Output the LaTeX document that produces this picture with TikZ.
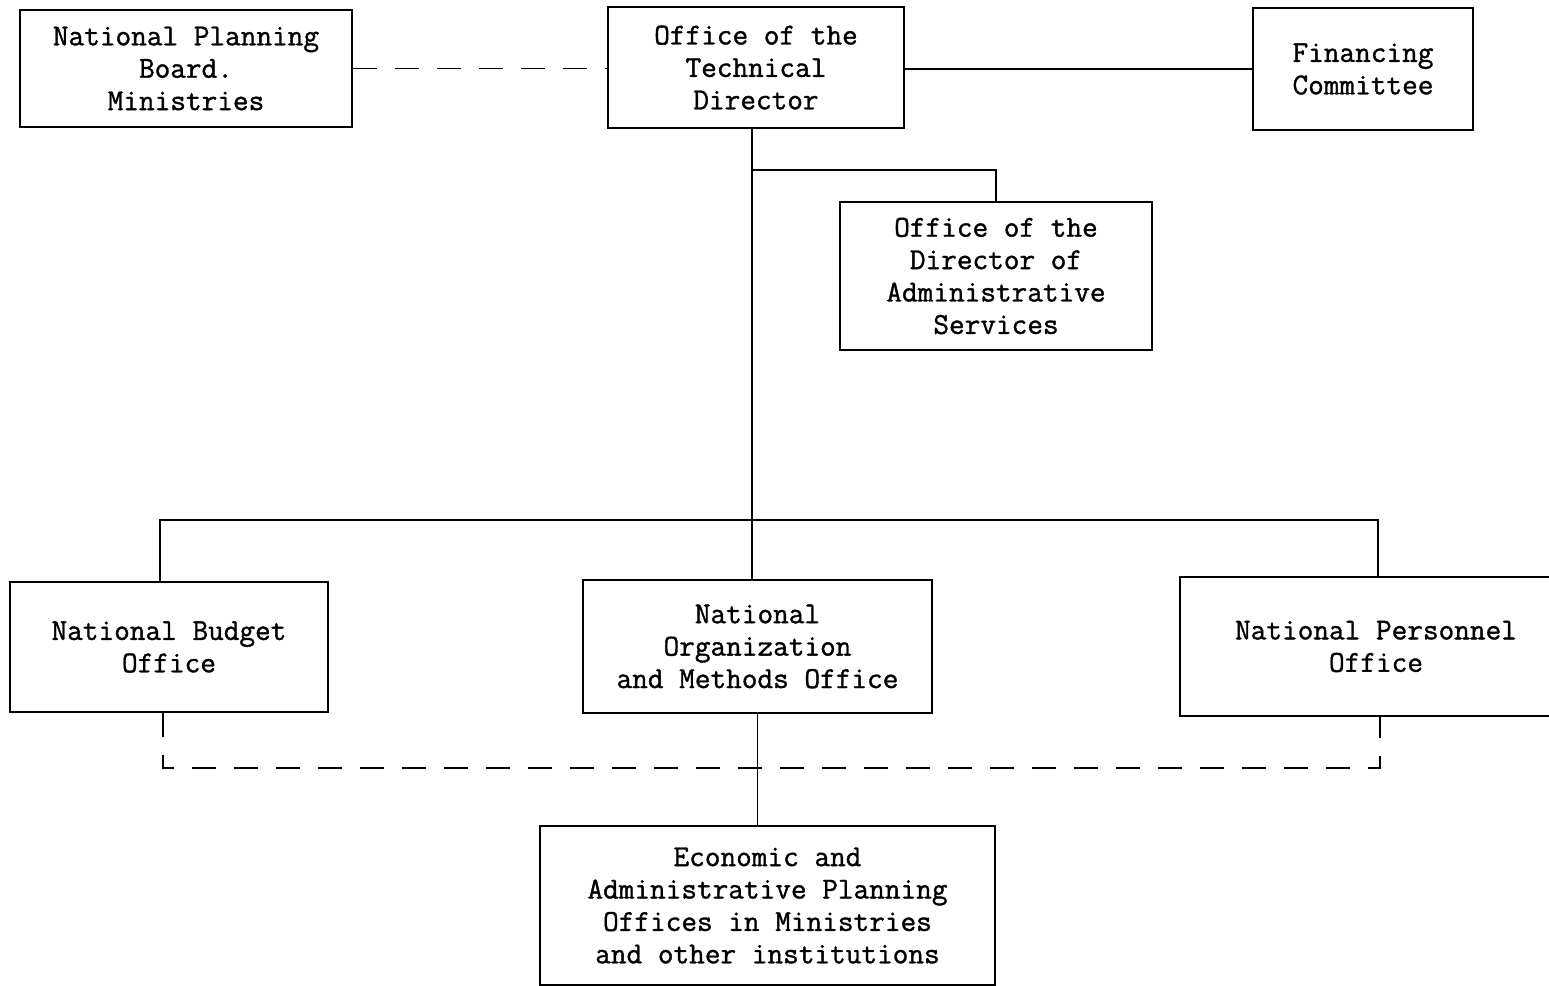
\documentclass[tikz,border=0pt]{standalone}
\usepackage{fontspec}
\newfontfamily\twfont[FakeBold=1.2]{Latin Modern Mono}
\begin{document}
\begin{tikzpicture}[x=0.5pt,y=-0.5pt,
  box/.style={draw,line width=0.8pt,rectangle,inner sep=0pt,align=center,
    font=\twfont\fontsize{15.2}{16.2}\selectfont},
  link/.style={line width=0.8pt},
  dlink/.style={line width=0.8pt,dash pattern=on 12pt off 9pt}]
\useasboundingbox (0,0) rectangle (1549,986);
\clip (0,0) rectangle (1549,986);
\node[box,minimum width=166pt,minimum height=58.5pt] (npb) at (186,68.5) {National Planning\\Board.\\Ministries};
\node[box,minimum width=148pt,minimum height=60.5pt] (otd) at (756,67.5) {Office of the\\Technical\\Director};
\node[box,minimum width=110pt,minimum height=61pt] (fc) at (1363,69) {Financing\\Committee};
\node[box,minimum width=156pt,minimum height=74pt] (odas) at (996,276) {Office of the\\Director of\\Administrative\\Services};
\node[box,minimum width=159pt,minimum height=65pt] (nbo) at (169,647) {National Budget\\Office};
\node[box,minimum width=174.5pt,minimum height=66.5pt] (nomo) at (757.5,646.5) {National\\Organization\\and Methods Office};
\node[box,minimum width=196pt,minimum height=69.5pt] (npo) at (1376,646.5) {National Personnel\\Office};
\node[box,minimum width=227.5pt,minimum height=79.5pt] (eapo) at (767.5,905.5) {Economic and\\Administrative Planning\\Offices in Ministries\\and other institutions};
\coordinate (tr) at (752,520);
\coordinate (bl) at (160,520);
\coordinate (br) at (1378,520);
\coordinate (dl) at (163,768);
\coordinate (dr) at (1380,768);
\coordinate (br1) at (752,170);
\draw[dlink] (npb.east) -- (otd.west |- npb.east);
\draw[link] (otd.east |- fc.west) -- (fc.west);
\draw[link] (tr |- otd.south) -- (tr) -- (tr |- nomo.north);
\draw[link] (br1) -| (odas.north);
\draw[link] (bl |- nbo.north) -- (bl) -- (br) -- (br |- npo.north);
\draw[dlink] (dl |- nbo.south) -- (dl) -- (dr) -- (dr |- npo.south);
\draw[link] (nomo.south) -- (nomo.south |- eapo.north);
\end{tikzpicture}
\end{document}
